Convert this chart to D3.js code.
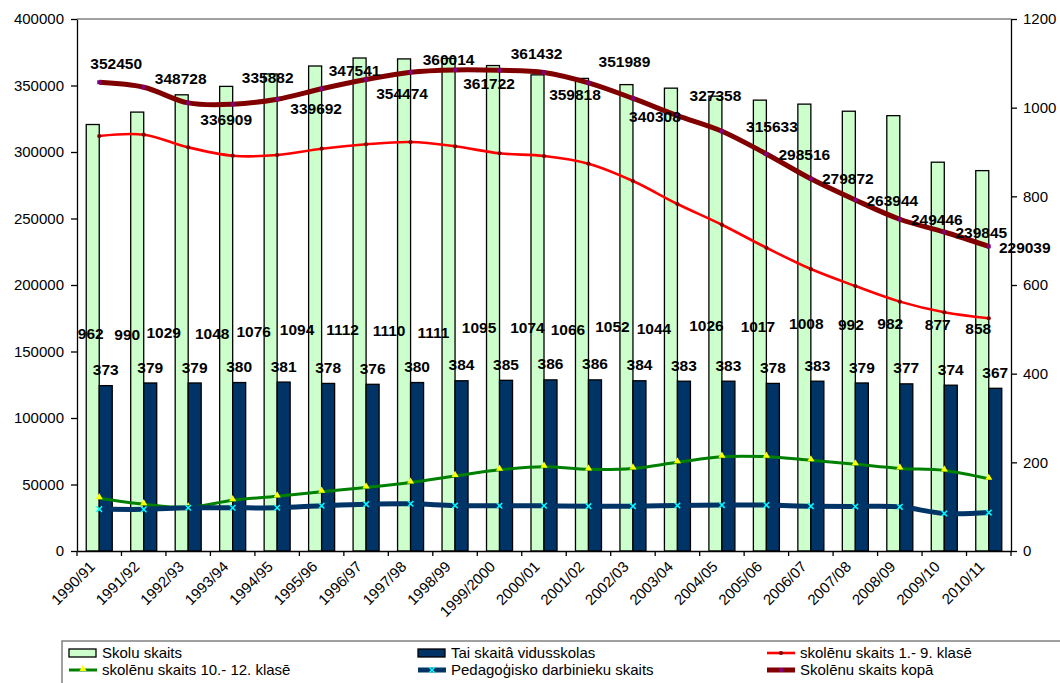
<!DOCTYPE html>
<html>
<head>
<meta charset="utf-8">
<script src="https://cdn.jsdelivr.net/npm/d3@7/dist/d3.min.js"></script>
<style>
  body { margin: 0; background: #fff; }
  svg text { font-family: "Liberation Sans", Arial, sans-serif; fill: #000; }
</style>
</head>
<body>
<script>
(function () {

  let years = [
    '1990/91', '1991/92', '1992/93', '1993/94', '1994/95', '1995/96', '1996/97',
    '1997/98', '1998/99', '1999/2000', '2000/01', '2001/02', '2002/03', '2003/04',
    '2004/05', '2005/06', '2006/07', '2007/08', '2008/09', '2009/10', '2010/11'
  ];

  // right axis
  let schools   = [962, 990, 1029, 1048, 1076, 1094, 1112, 1110, 1111, 1095, 1074,
                   1066, 1052, 1044, 1026, 1017, 1008, 992, 982, 877, 858];
  let secondary = [373, 379, 379, 380, 381, 378, 376, 380, 384, 385, 386,
                   386, 384, 383, 383, 378, 383, 379, 377, 374, 367];

  // left axis
  let pupils19    = [312000, 313000, 303500, 297200, 297700, 302500, 305800, 307500, 304300, 299000, 297000,
                     291200, 278200, 260900, 245300, 228000, 212000, 199200, 187500, 179500, 175000];
  let pupils1012  = [39700, 35200, 32800, 38200, 41100, 44600, 47800, 51500, 56400, 61100, 63400,
                     61400, 62100, 66700, 70900, 70900, 68200, 65200, 62100, 60600, 54300];
  let teachers    = [31500, 31300, 32500, 32500, 32500, 34000, 35200, 35500, 34200, 34000, 34000,
                     33700, 33700, 34200, 34500, 34500, 33700, 33500, 33200, 28200, 28900];
  let pupilsTotal = [352450, 348728, 336909, 335882, 339692, 347541, 354474, 360014, 361722, 361432, 359818,
                     351989, 340308, 327358, 315633, 298516, 279872, 263944, 249446, 239845, 229039];

  let leftTicks  = [0, 50000, 100000, 150000, 200000, 250000, 300000, 350000, 400000];
  let rightTicks = [0, 200, 400, 600, 800, 1000, 1200];

  // hand nudges of the data labels, px (they were dragged around in the original)
  let totalLabelShift = [[17, -19], [37, -9], [38, 17], [35, -27], [39, 9], [33, -18], [36, 14],
                         [38, -13], [34, 14], [37, -17], [31, 22], [36, -21], [22, 18], [38, -20],
                         [50, -5], [38, 0], [37, 0], [37, 0], [37, 0], [37, 0], [36, 1]];
  let schoolLabelShift = [[-2, 4], [-10, 5], [-18, 3], [-14, 4], [-17, 2], [-18, 0], [-17, 0],
                          [-15, 1], [-15, 3], [-14, -2], [-10, -2], [-14, 0], [-14, -3], [-17, -1],
                          [-9, -4], [-2, -3], [2, -6], [2, -5], [-3, -6], [0, -5], [-4, -1]];

  function go() {

    let plot = { left: 77, right: 1011, top: 19, bottom: 551 };

    let svg = d3.select('body').append('svg')
        .attr('width', 1060)
        .attr('height', 683);

    let x = d3.scaleBand().domain(years).range([plot.left, plot.right]);
    let xSub = d3.scaleBand().domain(['schools', 'secondary'])
        .range([0, x.bandwidth()]).paddingOuter(0.71);
    let yLeft  = d3.scaleLinear().domain([0, 400000]).range([plot.bottom, plot.top]);
    let yRight = d3.scaleLinear().domain([0, 1200]).range([plot.bottom, plot.top]);

    function cx(i) { return x(years[i]) + x.bandwidth() / 2; }

    // plot area top border
    svg.append('line')
      .attr('x1', plot.left).attr('x2', plot.right)
      .attr('y1', plot.top).attr('y2', plot.top)
      .attr('stroke', '#808080').attr('stroke-width', 1.5);

    // bars
    let barSets = [
      { key: 'schools', values: schools, fill: '#CCFFCC' },
      { key: 'secondary', values: secondary, fill: '#003366' }
    ];
    barSets.forEach(function (set) {
      svg.append('g').selectAll('rect').data(set.values)
        .enter().append('rect')
        .attr('x', function (d, i) { return x(years[i]) + xSub(set.key); })
        .attr('y', function (d) { return yRight(d); })
        .attr('width', xSub.bandwidth())
        .attr('height', function (d) { return yRight(0) - yRight(d); })
        .attr('fill', set.fill)
        .attr('stroke', '#000')
        .attr('stroke-width', 1.3);
    });

    // axes
    let leftAxis = d3.axisLeft(yLeft).tickValues(leftTicks).tickFormat(d3.format('d'))
        .tickSize(6).tickSizeOuter(0).tickPadding(7);
    let rightAxis = d3.axisRight(yRight).tickValues(rightTicks).tickFormat(d3.format('d'))
        .tickSize(6).tickSizeOuter(0).tickPadding(6);
    let bottomAxis = d3.axisBottom(x).tickSize(0).tickSizeOuter(0);

    let gl = svg.append('g').attr('transform', 'translate(' + plot.left + ',0)').call(leftAxis);
    let gr = svg.append('g').attr('transform', 'translate(' + plot.right + ',0)').call(rightAxis);
    let gb = svg.append('g').attr('transform', 'translate(0,' + plot.bottom + ')').call(bottomAxis);

    [gl, gr, gb].forEach(function (g) {
      g.selectAll('path, line').attr('stroke', '#000').attr('stroke-width', 1.3);
      g.selectAll('text').style('font-size', '15px');
    });

    gb.selectAll('text')
      .attr('x', 0).attr('y', 0).attr('dy', '0.35em')
      .attr('text-anchor', 'end')
      .attr('transform', 'translate(-7,13) rotate(-45)');

    // category boundary ticks
    let bounds = years.map(function (d) { return x(d); }).concat([plot.right]);
    svg.append('g').selectAll('line').data(bounds)
      .enter().append('line')
      .attr('x1', function (d) { return d; }).attr('x2', function (d) { return d; })
      .attr('y1', plot.bottom).attr('y2', plot.bottom + 5)
      .attr('stroke', '#000').attr('stroke-width', 1.3);

    // lines
    let series = [
      { name: 'skolēnu skaits 1.- 9. klasē', values: pupils19, color: '#FF0000', width: 2.6,
        marker: d3.symbolCircle, markerSize: 14, markerFill: '#800000' },
      { name: 'skolēnu skaits 10.- 12. klasē', values: pupils1012, color: '#008000', width: 3,
        marker: d3.symbolTriangle, markerSize: 22, markerFill: '#FFFF00' },
      { name: 'Pedagoģisko darbinieku skaits', values: teachers, color: '#003366', width: 5,
        marker: d3.symbolX, markerSize: 22, markerFill: 'none', markerStroke: '#00FFFF' },
      { name: 'Skolēnu skaits kopā', values: pupilsTotal, color: '#800000', width: 5,
        marker: d3.symbolSquare, markerSize: 16, markerFill: '#800080' }
    ];

    let line = d3.line()
        .x(function (d, i) { return cx(i); })
        .y(function (d) { return yLeft(d); })
        .curve(d3.curveCatmullRom.alpha(0.5));

    function drawMarker(g, s, tx, ty) {
      g.append('path')
        .attr('d', d3.symbol().type(s.marker).size(s.markerSize))
        .attr('transform', 'translate(' + tx + ',' + ty + ')' + (s.marker === d3.symbolTriangle ? ' translate(0,-1)' : ''))
        .attr('fill', s.markerFill)
        .attr('stroke', s.markerStroke || 'none')
        .attr('stroke-width', s.markerStroke ? 1.5 : 0);
    }

    series.forEach(function (s) {
      svg.append('path')
        .datum(s.values)
        .attr('d', line)
        .attr('fill', 'none')
        .attr('stroke', s.color)
        .attr('stroke-width', s.width)
        .attr('stroke-linejoin', 'round');
      let gm = svg.append('g');
      s.values.forEach(function (v, i) { drawMarker(gm, s, cx(i), yLeft(v)); });
    });

    // data labels
    let labelStyle = function (sel) {
      sel.attr('text-anchor', 'middle')
        .attr('dy', '0.36em')
        .style('font-size', '15.5px')
        .style('font-weight', 'bold');
    };

    svg.append('g').selectAll('text').data(schools)
      .enter().append('text')
      .attr('x', function (d, i) { return x(years[i]) + xSub('schools') + xSub.bandwidth() / 2 + schoolLabelShift[i][0]; })
      .attr('y', function (d, i) { return yRight(500) + schoolLabelShift[i][1]; })
      .text(function (d) { return d; })
      .call(labelStyle);

    svg.append('g').selectAll('text').data(secondary)
      .enter().append('text')
      .attr('x', function (d, i) { return x(years[i]) + xSub('secondary') + xSub.bandwidth() / 2; })
      .attr('y', function (d) { return yRight(d) - 16; })
      .text(function (d) { return d; })
      .call(labelStyle);

    svg.append('g').selectAll('text').data(pupilsTotal)
      .enter().append('text')
      .attr('x', function (d, i) { return cx(i) + totalLabelShift[i][0]; })
      .attr('y', function (d, i) { return yLeft(d) + totalLabelShift[i][1]; })
      .text(function (d) { return d; })
      .call(labelStyle);

    // legend
    let legend = svg.append('g');
    legend.append('rect')
      .attr('x', 62).attr('y', 641)
      .attr('width', 1010).attr('height', 60)
      .attr('fill', '#fff')
      .attr('stroke', '#808080').attr('stroke-width', 1.5);

    let legendItems = [
      { name: 'Skolu skaits', rect: '#CCFFCC' },
      { name: 'Tai skaitâ vidusskolas', rect: '#003366' },
      series[0], series[1], series[2], series[3]
    ];
    let slots = [[0, 0], [1, 0], [2, 0], [0, 1], [1, 1], [2, 1]];

    legendItems.forEach(function (item, k) {
      let lx = 69 + slots[k][0] * 349;
      let ly = 653 + slots[k][1] * 17;
      let g = legend.append('g');
      if (item.rect) {
        g.append('rect')
          .attr('x', lx).attr('y', ly - 4)
          .attr('width', 27).attr('height', 8)
          .attr('fill', item.rect).attr('stroke', '#000').attr('stroke-width', 1.3);
      } else {
        g.append('line')
          .attr('x1', lx).attr('x2', lx + 28)
          .attr('y1', ly).attr('y2', ly)
          .attr('stroke', item.color).attr('stroke-width', item.width);
        drawMarker(g, item, lx + 14, ly);
      }
      g.append('text')
        .attr('x', lx + 33).attr('y', ly)
        .attr('dy', '0.36em')
        .style('font-size', '15px')
        .text(item.name);
    });
  }

  document.addEventListener('DOMContentLoaded', go);

})();
</script>
</body>
</html>
